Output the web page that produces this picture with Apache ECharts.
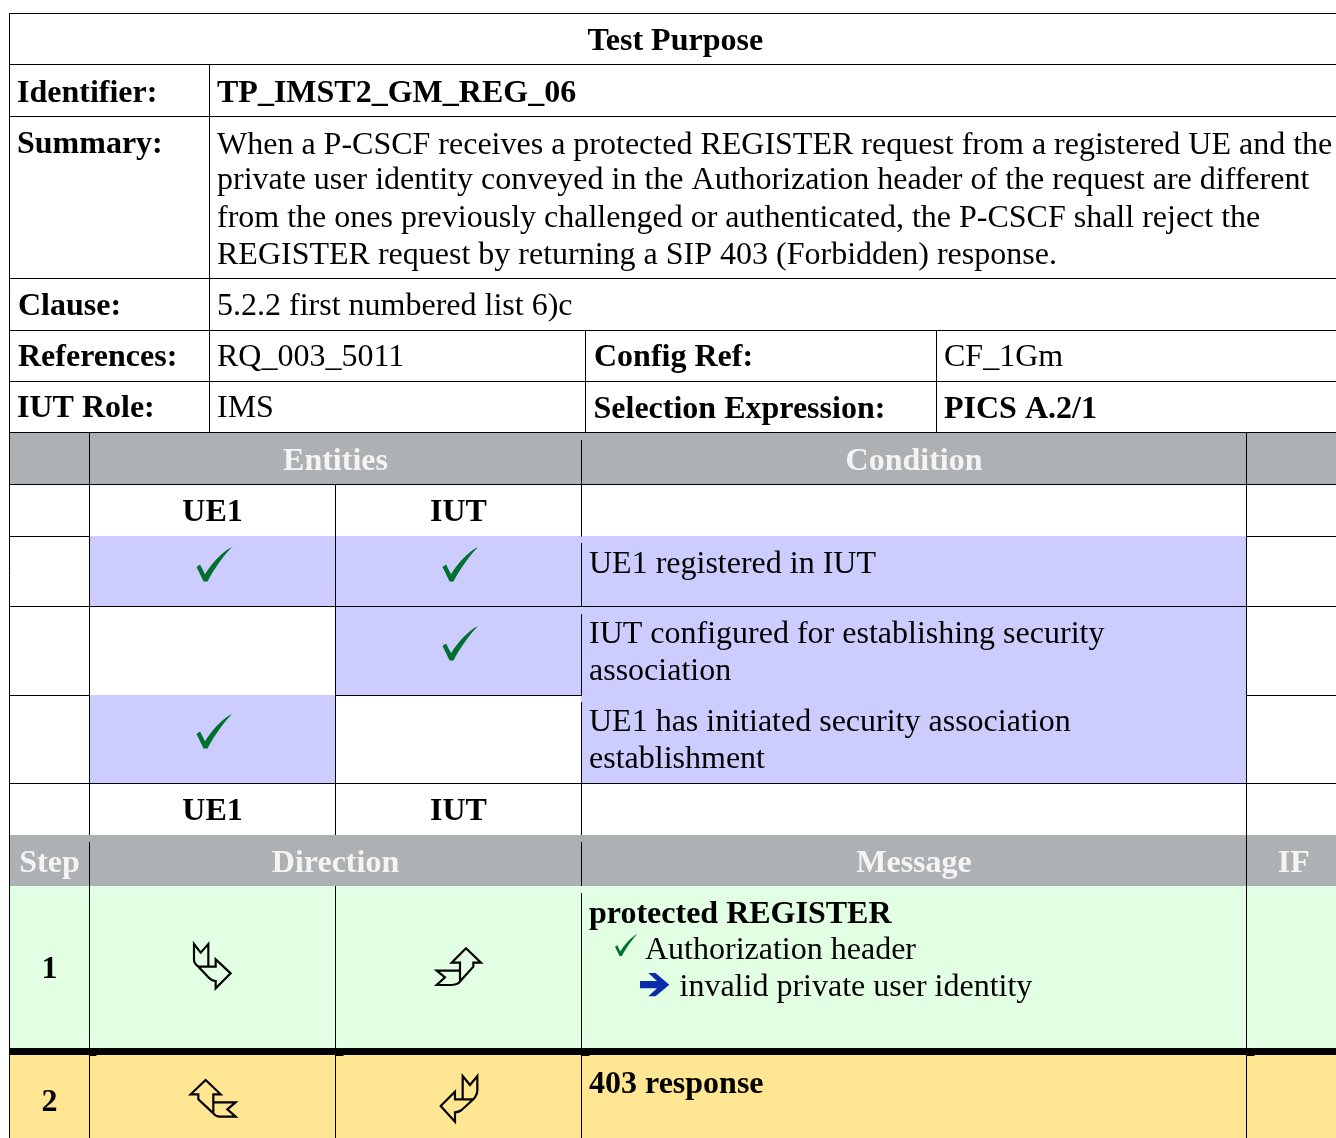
<!DOCTYPE html>
<html>
<head>
<meta charset="utf-8">
<title>Test Purpose</title>
<script src="https://cdn.jsdelivr.net/npm/echarts@6/dist/echarts.min.js"></script>
<style>
  html, body { margin: 0; padding: 0; background: #fff; }
  #chart { width: 1336px; height: 1138px; }
</style>
</head>
<body>
<div id="chart"></div>
<script>
// table content
const titleLabel = 'Test Purpose';
const metaLabels = ['Identifier:', 'Summary:', 'Clause:', 'References:', 'IUT Role:'];
const identifier = 'TP_IMST2_GM_REG_06';
const summaryLines = [
  'When a P-CSCF receives a protected REGISTER request from a registered UE and the',
  'private user identity conveyed in the Authorization header of the request are different',
  'from the ones previously challenged or authenticated, the P-CSCF shall reject the',
  'REGISTER request by returning a SIP 403 (Forbidden) response.'
];
const clauseText = '5.2.2 first numbered list 6)c';
const refValues = ['RQ_003_5011', 'Config Ref:', 'CF_1Gm'];
const roleValues = ['IMS', 'Selection Expression:', 'PICS A.2/1'];
const groupHeaders = ['Entities', 'Condition'];
const entities = ['UE1', 'IUT'];
const conditionLines = [
  'UE1 registered in IUT',
  'IUT configured for establishing security',
  'association',
  'UE1 has initiated security association',
  'establishment'
];
const stepHeaders = ['Step', 'Direction', 'Message', 'IF'];
const stepNumbers = ['1', '2'];
const stepMessages = ['protected REGISTER', 'Authorization header', 'invalid private user identity', '403 response'];

// table layout, in page pixels
const X = { left: 9.5, step: 89.5, key: 209.5, mid: 335.5, cond: 581.5, conf: 585.5, conf2: 936.5, iface: 1246.5, right: 1341 };
const Y = {
  top: 13.5, id: 64.5, sum: 116.5, clause: 278.5, ref: 330.5, role: 381.5, ent: 432.5, who: 484.5,
  c1: 536.5, c2: 606.5, c3: 695.5, who2: 783.5, head: 835, s1: 886, thickTop: 1048, thickBot: 1055, end: 1138
};
const GRAY = '#aeb1b3', BLUE = '#ccccff', GREEN = '#e3ffe3', YELLOW = '#ffe692';

const fills = [
  [X.left, X.right, Y.ent, Y.who, GRAY],
  [X.step, X.iface, Y.c1, Y.c2, BLUE],
  [X.mid, X.cond, Y.c2, Y.c3, BLUE],
  [X.step, X.mid, Y.c3, Y.who2, BLUE],
  [X.cond, X.iface, Y.c2, Y.who2, BLUE],
  [X.left, X.right, Y.head, Y.s1, GRAY],
  [X.left, X.right, Y.s1, Y.thickTop, GREEN],
  [X.left, X.right, Y.thickBot, Y.end, YELLOW],
  [X.left, X.right, Y.thickTop, Y.thickBot, '#000000']
];

const hLines = [
  [Y.top, X.left, X.right], [Y.id, X.left, X.right], [Y.sum, X.left, X.right], [Y.clause, X.left, X.right],
  [Y.ref, X.left, X.right], [Y.role, X.left, X.right], [Y.ent, X.left, X.right], [Y.who, X.left, X.right],
  [Y.c1, X.left, X.step], [Y.c1, X.iface, X.right],
  [Y.c2, X.left, X.right],
  [Y.c3, X.left, X.step], [Y.c3, X.mid, X.cond], [Y.c3, X.iface, X.right],
  [Y.who2, X.left, X.right],
  [1055.5, X.step, 96], [1055.5, X.mid, 343], [1055.5, X.cond, 589], [1055.5, X.iface, 1254]
];
const vLines = [
  [X.left, Y.top, Y.end],
  [X.key, Y.id, Y.ent], [X.conf, Y.ref, Y.ent], [X.conf2, Y.ref, Y.ent],
  [X.step, Y.ent, Y.head], [X.step, 842, Y.thickTop], [X.step, Y.thickBot, Y.end],
  [X.mid, Y.who, Y.head], [X.mid, Y.s1, Y.thickTop], [X.mid, Y.thickBot, Y.end],
  [X.cond, 440, Y.c1], [X.cond, 543, Y.c2], [X.cond, 614, Y.c3], [X.cond, 702, Y.head],
  [X.cond, 842, Y.s1], [X.cond, 893, Y.thickTop], [X.cond, Y.thickBot, Y.end],
  [X.iface, Y.ent, Y.thickTop], [X.iface, Y.thickBot, Y.end]
];

const FONT_SIZE = 32;
const PAD = 7.5;
const HEAD_TEXT = '#f4f4f4';
const texts = [];
function put(text, x, baseline, bold, align, fill) {
  texts.push({ text, x, baseline, bold, align: align || 'left', fill: fill || '#000' });
}
const mid = (a, b) => (a + b) / 2;

put(titleLabel, mid(X.left, X.right), 50, true, 'center');
[102, 153.5, 315, 366, 417].forEach((b, i) => put(metaLabels[i], X.left + (i === 2 || i === 3 ? PAD + 1 : PAD), b, true));
put(identifier, X.key + PAD, 102, true);
[153.5, 189, 227, 264].forEach((b, i) => put(summaryLines[i], X.key + PAD, b));
put(clauseText, X.key + PAD, 314.5);
put(refValues[0], X.key + PAD, 366);
put(refValues[1], X.conf + 8.5, 366, true);
put(refValues[2], X.conf2 + PAD, 366);
put(roleValues[0], X.key + PAD, 416.5);
put(roleValues[1], X.conf + 8, 418, true);
put(roleValues[2], X.conf2 + PAD, 418, true);
put(groupHeaders[0], mid(X.step, X.cond), 470, true, 'center', HEAD_TEXT);
put(groupHeaders[1], mid(X.cond, X.iface), 470, true, 'center', HEAD_TEXT);
[521, 820].forEach(b => {
  put(entities[0], mid(X.step, X.mid), b, true, 'center');
  put(entities[1], mid(X.mid, X.cond), b, true, 'center');
});
[572.5, 643, 680, 731, 768].forEach((b, i) => put(conditionLines[i], X.cond + PAD, b));
put(stepHeaders[0], mid(X.left, X.step), 872, true, 'center', HEAD_TEXT);
put(stepHeaders[1], mid(X.step, X.cond), 872, true, 'center', HEAD_TEXT);
put(stepHeaders[2], mid(X.cond, X.iface), 872, true, 'center', HEAD_TEXT);
put(stepHeaders[3], mid(X.iface, X.right), 872, true, 'center', HEAD_TEXT);
put(stepNumbers[0], mid(X.left, X.step), 978, true, 'center');
put(stepNumbers[1], mid(X.left, X.step), 1111, true, 'center');
put(stepMessages[0], X.cond + PAD, 923, true);
put(stepMessages[1], 645, 959);
put(stepMessages[2], 679.5, 996);
put(stepMessages[3], X.cond + PAD, 1093.5, true);

// glyph outlines, drawn in a local grid and scaled per mark
const CHECK = 'M0,58 L10,51 L24,79 C42,48 72,14 100,0 C80,20 50,62 31,100 L20,100 Z';
const ARROW_DR = 'M72,72 L92,98 L115,72 L115,140 L137,140 L137,118 L182,160 L137,205 L137,183 Q125,183 115,172 L85,140 Q72,130 72,120 Z M85,140 L115,140';
const ARROW_UR = 'M138,85 L183,128 L160,128 L160,140 L115,190 Q105,195 95,195 L50,195 L75,172 L50,152 L120,152 L120,128 L95,128 Z M120,152 L120,182';
const ARROW_UL = 'M107,60 L152,103 L130,103 L130,127 L197,127 L172,148 L197,170 L150,170 Q138,170 130,160 L85,118 L85,103 L62,103 Z M130,127 L130,160';
const ARROW_DL = 'M128,48 L150,75 L172,48 L172,90 Q172,105 160,118 L125,150 Q115,157 105,157 L105,185 L62,138 L105,95 L105,118 L128,118 Z M128,118 L160,118';
const ARROW_BLUE = 'M0,8 L17,8 L8.3,0 L15.6,0 L29.3,11.7 L15.6,23.3 L8.3,23.3 L17,15.3 L0,15.3 Z';

const CHECK_GREEN = '#00702f';
const glyphs = [
  [CHECK, 196.5, 547, 0.355, 0.345, CHECK_GREEN, true],
  [CHECK, 442.5, 547, 0.355, 0.345, CHECK_GREEN, true],
  [CHECK, 442.5, 626, 0.355, 0.345, CHECK_GREEN, true],
  [CHECK, 196.5, 714, 0.355, 0.345, CHECK_GREEN, true],
  [CHECK, 615, 934, 0.225, 0.22, CHECK_GREEN, true],
  [ARROW_BLUE, 640, 973, 1, 1, '#0a2bab', true],
  [ARROW_DR, 170, 920, 1 / 3, 1 / 3, '#000', false],
  [ARROW_UR, 420, 920, 1 / 3, 1 / 3, '#000', false],
  [ARROW_UL, 170, 1060, 1 / 3, 1 / 3, '#000', false],
  [ARROW_DL, 420, 1060, 1 / 3, 1 / 3, '#000', false]
];

const chart = echarts.init(document.getElementById('chart'), null, { renderer: 'canvas' });

const base = { type: 'custom', silent: true, animation: false, clip: false, coordinateSystem: 'cartesian2d' };

chart.setOption({
  animation: false,
  tooltip: { show: false },
  grid: { left: 0, right: 0, top: 0, bottom: 0 },
  xAxis: { type: 'value', min: 0, max: 1336, show: false },
  yAxis: { type: 'value', min: 0, max: 1138, inverse: true, show: false },
  series: [
    {
      ...base,
      name: 'fills',
      data: fills.map((f, i) => [f[0], f[2], i]),
      renderItem: (params, api) => {
        const f = fills[params.dataIndex];
        const a = api.coord([f[0], f[2]]).map(Math.floor);
        const b = api.coord([f[1], f[3]]).map(Math.floor);
        return { type: 'rect', shape: { x: a[0], y: a[1], width: b[0] - a[0], height: b[1] - a[1] }, style: { fill: f[4] } };
      }
    },
    {
      ...base,
      name: 'hLines',
      data: hLines.map((l, i) => [l[1], l[0], i]),
      renderItem: (params, api) => {
        const l = hLines[params.dataIndex];
        const a = api.coord([l[1], l[0]]);
        const b = api.coord([l[2], l[0]]);
        return { type: 'line', shape: { x1: a[0] - 0.5, y1: a[1], x2: b[0] + 0.5, y2: b[1] }, style: { stroke: '#000', lineWidth: 1 } };
      }
    },
    {
      ...base,
      name: 'vLines',
      data: vLines.map((l, i) => [l[0], l[1], i]),
      renderItem: (params, api) => {
        const l = vLines[params.dataIndex];
        const a = api.coord([l[0], l[1]]);
        const b = api.coord([l[0], l[2]]);
        return { type: 'line', shape: { x1: a[0], y1: a[1], x2: b[0], y2: b[1] }, style: { stroke: '#000', lineWidth: 1 } };
      }
    },
    {
      ...base,
      name: 'glyphs',
      data: glyphs.map((g, i) => [g[1], g[2], i]),
      renderItem: (params, api) => {
        const g = glyphs[params.dataIndex];
        const p = api.coord([g[1], g[2]]);
        return {
          type: 'path',
          x: p[0], y: p[1], scaleX: g[3], scaleY: g[4],
          shape: { pathData: g[0] },
          style: g[6] ? { fill: g[5], stroke: null } : { fill: null, stroke: g[5], lineWidth: 6.5, lineJoin: 'miter' }
        };
      }
    },
    {
      ...base,
      name: 'texts',
      data: texts.map((t, i) => [t.x, t.baseline, i]),
      renderItem: (params, api) => {
        const t = texts[params.dataIndex];
        const p = api.coord([t.x, t.baseline]);
        return {
          type: 'text',
          x: p[0], y: p[1] - FONT_SIZE * 0.26,
          style: {
            text: t.text, x: 0, y: 0,
            fill: t.fill,
            font: (t.bold ? 'bold ' : '') + FONT_SIZE + 'px "Liberation Serif"',
            textAlign: t.align,
            textVerticalAlign: 'middle'
          }
        };
      }
    }
  ]
});
window.addEventListener('resize', () => chart.resize());
</script>
</body>
</html>
